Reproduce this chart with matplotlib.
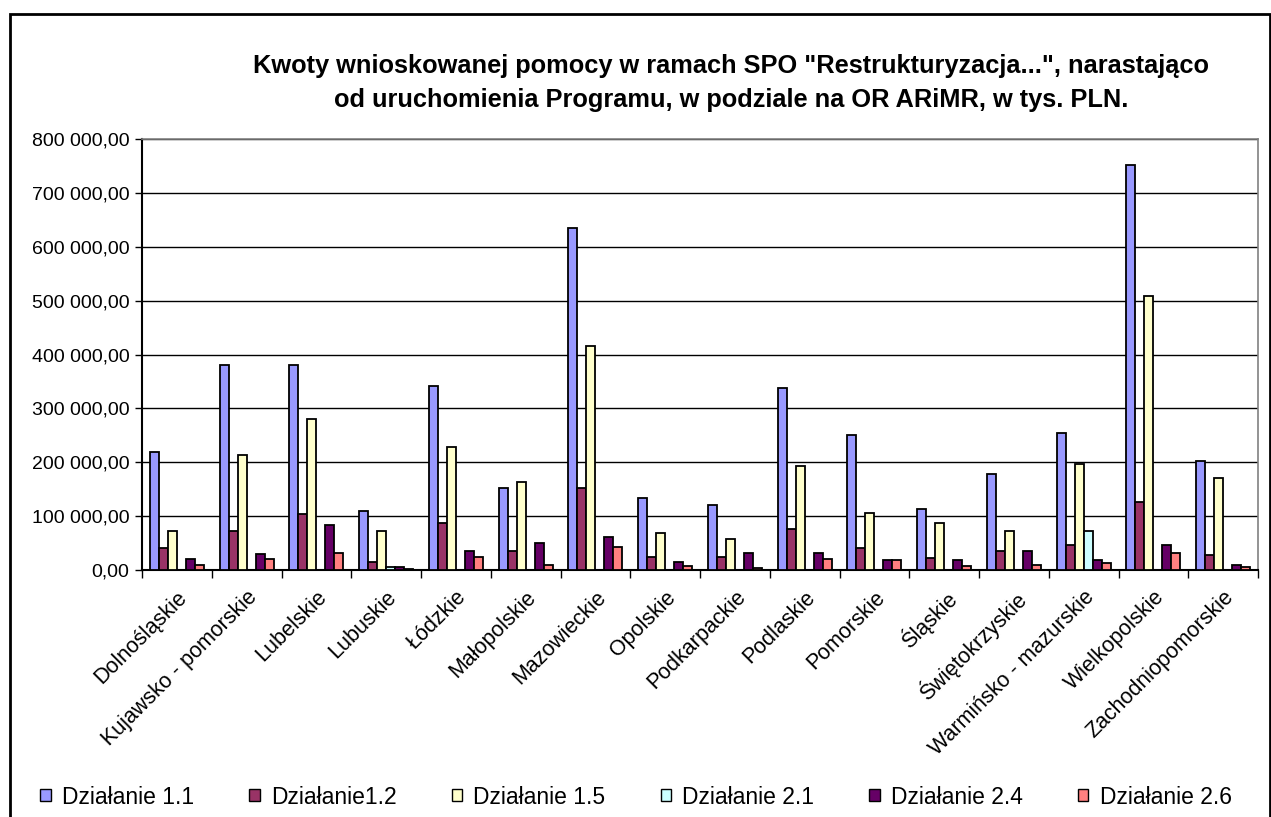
import matplotlib
matplotlib.use("Agg")
import matplotlib.pyplot as plt
import numpy as np
from matplotlib.patches import Rectangle, Patch
from matplotlib.ticker import FuncFormatter, MultipleLocator

plt.rcParams['font.family'] = ['Liberation Sans', 'DejaVu Sans']

regions = ["Dolnośląskie", "Kujawsko - pomorskie", "Lubelskie", "Lubuskie", "Łódzkie",
           "Małopolskie", "Mazowieckie", "Opolskie", "Podkarpackie", "Podlaskie",
           "Pomorskie", "Śląskie", "Świętokrzyskie", "Warmińsko - mazurskie",
           "Wielkopolskie", "Zachodniopomorskie"]

series_names = ["Działanie 1.1", "Działanie1.2", "Działanie 1.5",
                "Działanie 2.1", "Działanie 2.4", "Działanie 2.6"]

dz_1_1 = [219000, 380000, 380000, 109000, 342000, 152000, 635000, 134000,
          120000, 338000, 251000, 113000, 178000, 255000, 752000, 203000]
dz_1_2 = [40000, 72000, 104000, 14000, 87000, 36000, 153000, 25000,
          25000, 76000, 40000, 21500, 36000, 46000, 126000, 28000]
dz_1_5 = [72000, 214000, 280000, 72000, 229000, 163000, 416000, 69000,
          58000, 193000, 105000, 87000, 72000, 196000, 508000, 170000]
dz_2_1 = [0, 0, 0, 6000, 0, 0, 0, 0,
          0, 0, 0, 0, 0, 72000, 0, 0]
dz_2_4 = [21000, 29000, 83000, 6000, 36000, 50000, 62000, 14000,
          32000, 32000, 18000, 18000, 36000, 18000, 46000, 9000]
dz_2_6 = [10000, 21000, 32000, 2000, 25000, 10000, 43000, 7000,
          3000, 21000, 18000, 7000, 9000, 13500, 32000, 6000]

series = [dz_1_1, dz_1_2, dz_1_5, dz_2_1, dz_2_4, dz_2_6]
colors = ["#9999FF", "#993366", "#FFFFCC", "#CCFFFF", "#660066", "#FF8080"]

W, H = 1271, 817
fig = plt.figure(figsize=(W / 100, H / 100), dpi=100)
ax = fig.add_axes([142 / W, 1 - 570 / H, (1258 - 142) / W, (570 - 139) / H])

n_series = len(series)
gap = 1.75
bw = 1.0 / (n_series + gap)
x = np.arange(len(regions))
for i, (vals, col, name) in enumerate(zip(series, colors, series_names)):
    offs = -0.5 + bw * gap / 2 + bw * (i + 0.5)
    ax.bar(x + offs, vals, width=bw, color=col, edgecolor="black",
           linewidth=1.3, label=name, zorder=3)

ax.set_xlim(-0.5, len(regions) - 0.5)
ax.set_ylim(0, 800000)
ax.yaxis.set_major_locator(MultipleLocator(100000))
ax.yaxis.set_major_formatter(FuncFormatter(
    lambda v, p: f"{v:,.2f}".replace(",", " ").replace(".", ",")))
ax.grid(axis="y", color="black", linewidth=1.0, zorder=0)

ax.set_xticks(np.arange(len(regions) + 1) - 0.5, minor=False)
ax.set_xticklabels([])
ax.tick_params(axis="x", which="major", length=6, width=1, direction="out")
ax.set_xticks(x, minor=True)
ax.set_xticklabels(regions, minor=True, rotation=45, ha="right",
                   rotation_mode="anchor", fontsize=15.5)
ax.tick_params(axis="x", which="minor", length=0, pad=12)
ax.tick_params(axis="y", length=5, width=1, direction="out", labelsize=14, pad=4)

for side in ["top", "right"]:
    ax.spines[side].set_color("#808080")
    ax.spines[side].set_linewidth(1.2)
for side in ["left", "bottom"]:
    ax.spines[side].set_color("black")
    ax.spines[side].set_linewidth(1.5)

fig.text(731 / W, 1 - 66 / H,
         'Kwoty wnioskowanej pomocy w ramach SPO "Restrukturyzacja...", narastająco',
         ha="center", va="center", fontsize=18.3, fontweight="bold")
fig.text(731 / W, 1 - 100 / H,
         'od uruchomienia Programu, w podziale na OR ARiMR, w tys. PLN.',
         ha="center", va="center", fontsize=18.3, fontweight="bold")

handles = [Patch(facecolor=c, edgecolor="black", linewidth=1.0) for c in colors]
fig.legend(handles, series_names, loc="center", ncol=6,
           bbox_to_anchor=(636 / W, 1 - 797 / H), frameon=False, fontsize=16.5,
           handlelength=0.45, handleheight=0.45, handletextpad=0.5,
           columnspacing=2.4, borderpad=0)

fig.add_artist(Rectangle((10 / W, -0.05), (W - 11) / W, 1.05 - 14 / H,
                         transform=fig.transFigure, fill=False,
                         edgecolor="black", linewidth=2))

fig.savefig("out.png", dpi=100)
